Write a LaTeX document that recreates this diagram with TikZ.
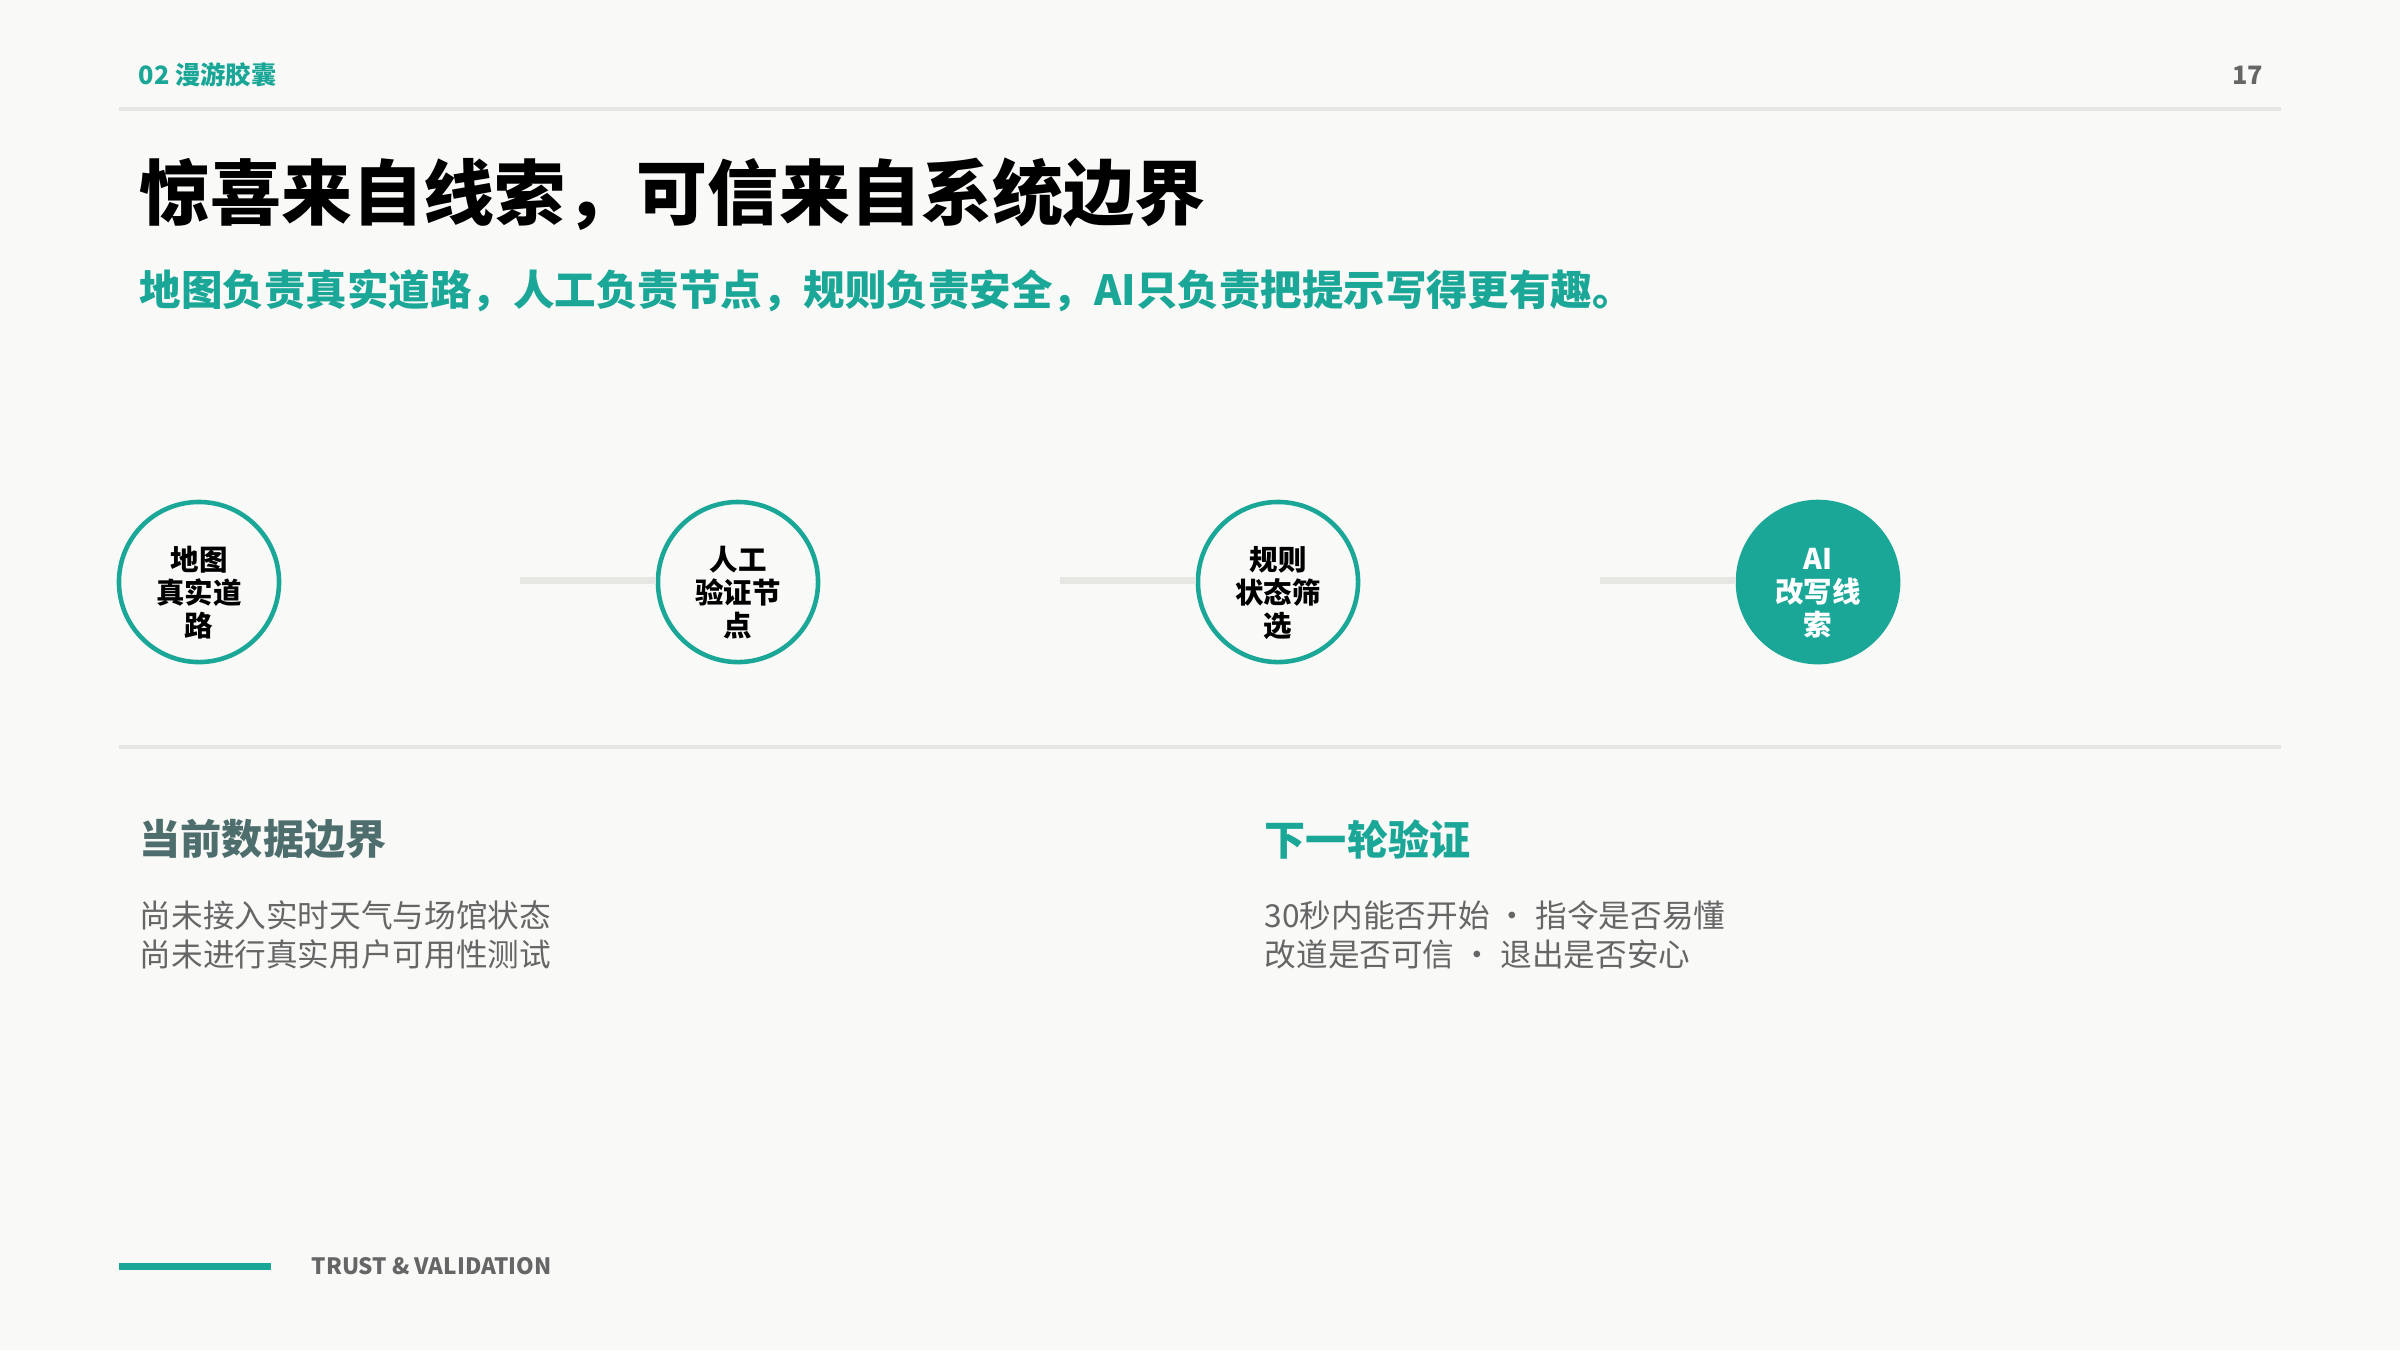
\documentclass[tikz,border=0pt]{standalone}
\usepackage{fontspec}
\setmainfont{Noto Sans CJK SC}
\usetikzlibrary{positioning}
\definecolor{accent}{HTML}{1BA797}
\definecolor{slate}{HTML}{4E6E6E}
\definecolor{body}{HTML}{666666}
\definecolor{rule}{HTML}{E6E6E2}
\definecolor{paper}{HTML}{F9F9F7}

\begin{document}
\begin{tikzpicture} [x=0.01cm,y=-0.01cm,
  every node/.style={inner sep=0pt},
  stage/.style={circle,minimum size=1.6cm,draw=accent,line width=1.3pt,fill=paper},
  laststage/.style={stage,fill=accent},
  stagetext/.style={align=center,yshift=-3.1pt,font=\fontsize{8.1}{9.4}\selectfont\bfseries},
  link/.style={draw=rule,line width=2pt},
  hairline/.style={draw=rule,line width=1pt},
  heading/.style={anchor=west,font=\fontsize{11.7}{14}\selectfont\bfseries},
  bodytext/.style={anchor=west,align=left,text=body,font=\fontsize{9}{11.1}\selectfont}]
\useasboundingbox[fill=paper] (0,0) rectangle (2400,1350);
% header
\node[anchor=west,text=accent,font=\fontsize{7.2}{9}\selectfont\bfseries] (section) at (138,75) {02 漫游胶囊};
\node[anchor=east,text=body,font=\fontsize{7.2}{9}\selectfont\bfseries] (page) at (2264,75) {17};
\draw[hairline] (119,109) -- (2281,109);
% title
\node[anchor=west,font=\fontsize{20.2}{24}\selectfont\bfseries] (title) at (139,194) {惊喜来自线索，可信来自系统边界};
\node[anchor=west,text=accent,font=\fontsize{11.8}{14}\selectfont\bfseries] (subtitle) at (139,291) {地图负责真实道路，人工负责节点，规则负责安全，AI只负责把提示写得更有趣。};
% stages
\node[stage] (map) at (199,582) {};
\node[stage] (human) at (738,582) {};
\node[stage] (rules) at (1278,582) {};
\node[laststage] (ai) at (1818,582) {};
\node[stagetext] (maptext) at (map) {地图\\真实道\\路};
\node[stagetext] (humantext) at (human) {人工\\验证节\\点};
\node[stagetext] (rulestext) at (rules) {规则\\状态筛\\选};
\node[stagetext,text=white] (aitext) at (ai) {AI\\改写线\\索};
\coordinate (from1) at (520,580);
\coordinate (from2) at (1060,580);
\coordinate (from3) at (1600,580);
\draw[link] (from1) -- (from1 -| human.west);
\draw[link] (from2) -- (from2 -| rules.west);
\draw[link] (from3) -- (from3 -| ai.west);
\draw[hairline] (119,747) -- (2281,747);
% notes
\node[heading,text=slate] (nowhead) at (139,839) {当前数据边界};
\node[bodytext] (nowbody) at (139,935) {尚未接入实时天气与场馆状态\\尚未进行真实用户可用性测试};
\node[heading,text=accent] (nexthead) at (1264,839) {下一轮验证};
\node[bodytext] (nextbody) at (1264,935) {30秒内能否开始 · 指令是否易懂\\改道是否可信 · 退出是否安心};
% footer
\draw[accent,line width=2pt] (119,1266) -- (271,1266);
\node[anchor=west,text=body,font=\fontsize{6.4}{8}\selectfont\bfseries] (tag) at (311,1266) {TRUST \& VALIDATION};
\end{tikzpicture}
\end{document}
